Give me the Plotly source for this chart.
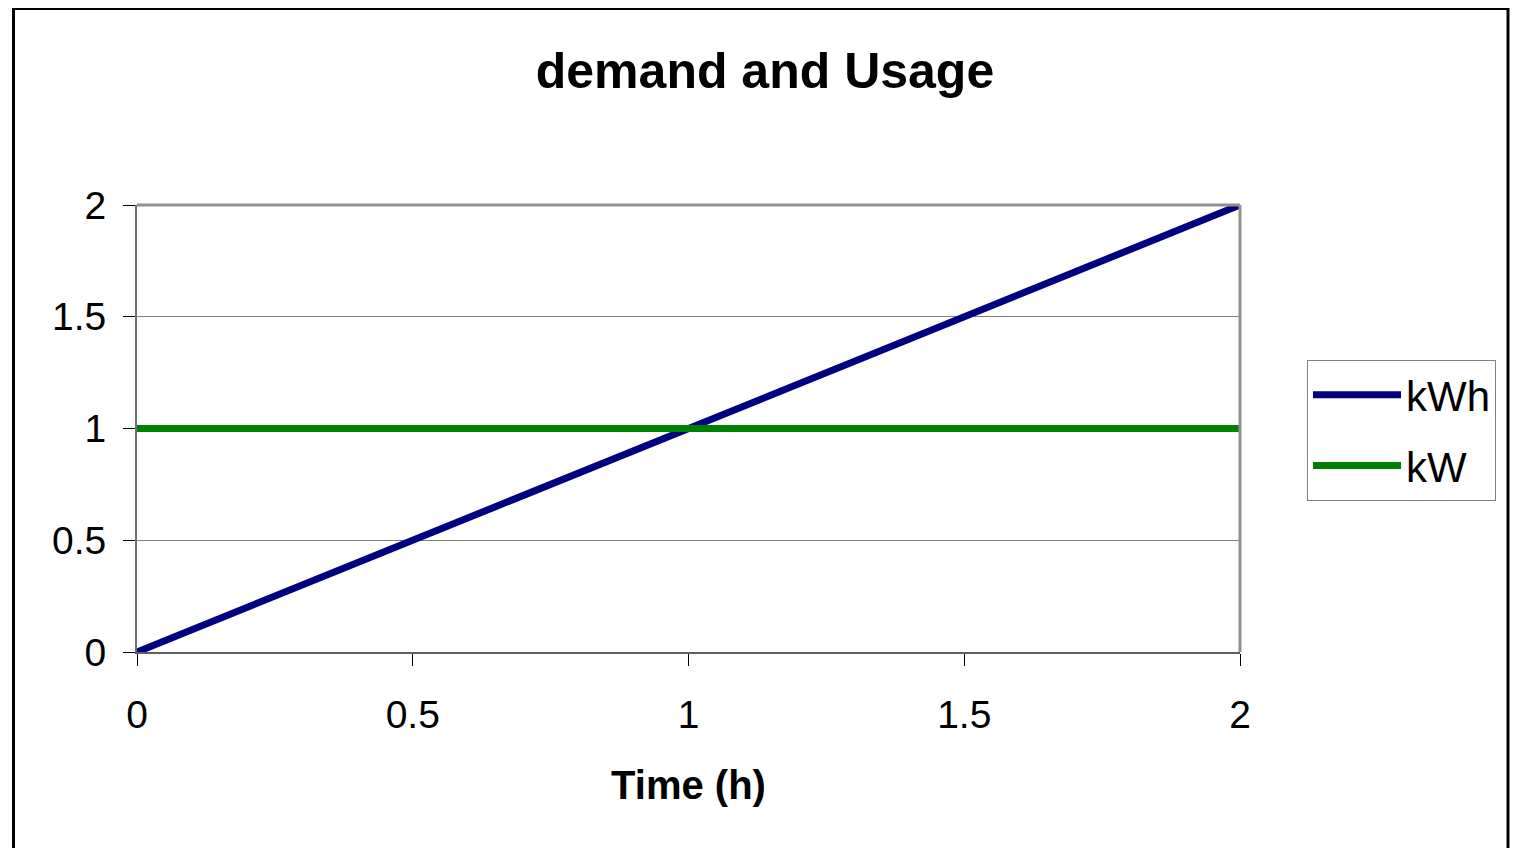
import plotly.graph_objects as go

time_h = [0, 1, 2]
kwh = [0, 1, 2]
kw = [1, 1, 1]
tick_vals = [0, 0.5, 1, 1.5, 2]
tick_text = ["0", "0.5", "1", "1.5", "2"]

OFF = 8  # page body margin
W, H = 1518 - 2 * OFF, 856 - 2 * OFF
# plot-area edges in screen pixels
L, R, T, B = 137, 1240, 205, 652
pw, ph = R - L, B - T

def px(x):
    return (x - L) / pw

def py(y):
    return (B - y) / ph

fig = go.Figure()
fig.add_trace(go.Scatter(x=time_h, y=kwh, mode="lines", name="kWh", legendgroup="a",
                         line=dict(color="#000080", width=7)))
fig.add_trace(go.Scatter(x=time_h, y=kw, mode="lines", name="kW", legendgroup="b",
                         line=dict(color="#008000", width=7)))

font = "Liberation Sans, Arial, sans-serif"
fig.update_layout(
    width=W, height=H,
    margin=dict(l=L - OFF, r=W - (R - OFF), t=T - OFF, b=H - (B - OFF)),
    paper_bgcolor="white", plot_bgcolor="white",
    title=dict(text="<b>demand and Usage</b>", x=(765 - OFF) / W, xref="container",
               y=1 - (70 - OFF) / H, yref="container", yanchor="middle", xanchor="center",
               font=dict(family=font, size=50, color="black")),
    font=dict(family=font, color="black"),
    xaxis=dict(range=[0, 2], tickvals=tick_vals, ticktext=tick_text,
               showgrid=False, zeroline=False,
               showline=True, linecolor="#606060", linewidth=2, mirror=False,
               ticks="outside", ticklen=12, tickcolor="black", tickwidth=1,
               ticklabelstandoff=15,
               tickfont=dict(size=39, family=font),
               title=dict(text="<b>Time (h)</b>", font=dict(size=40, family=font), standoff=36)),
    yaxis=dict(range=[0, 2], tickvals=tick_vals, ticktext=tick_text,
               showgrid=True, gridcolor="#808080", gridwidth=1, zeroline=False,
               showline=True, linecolor="#707070", linewidth=2, mirror=False,
               ticks="outside", ticklen=12, tickcolor="black", tickwidth=1,
               ticklabelstandoff=9,
               tickfont=dict(size=39, family=font)),
    legend=dict(x=px(1307), y=py(360), xanchor="left", yanchor="top",
                bordercolor="#808080", borderwidth=1, bgcolor="white",
                font=dict(size=42, family=font), itemwidth=88,
                tracegroupgap=13),
    showlegend=True,
)

# plot-area frame (top and right edges, gray)
fig.add_shape(type="line", xref="paper", yref="paper", x0=0, x1=1, y0=1, y1=1,
              line=dict(color="#909090", width=3))
fig.add_shape(type="line", xref="paper", yref="paper", x0=1, x1=1, y0=0, y1=1,
              line=dict(color="#909090", width=3))
# outer chart border
fig.add_shape(type="rect", xref="paper", yref="paper",
              x0=px(13.5), x1=px(1508), y0=py(880), y1=py(8.5),
              line=dict(color="black", width=3), layer="below")

fig.write_html("out.html")
